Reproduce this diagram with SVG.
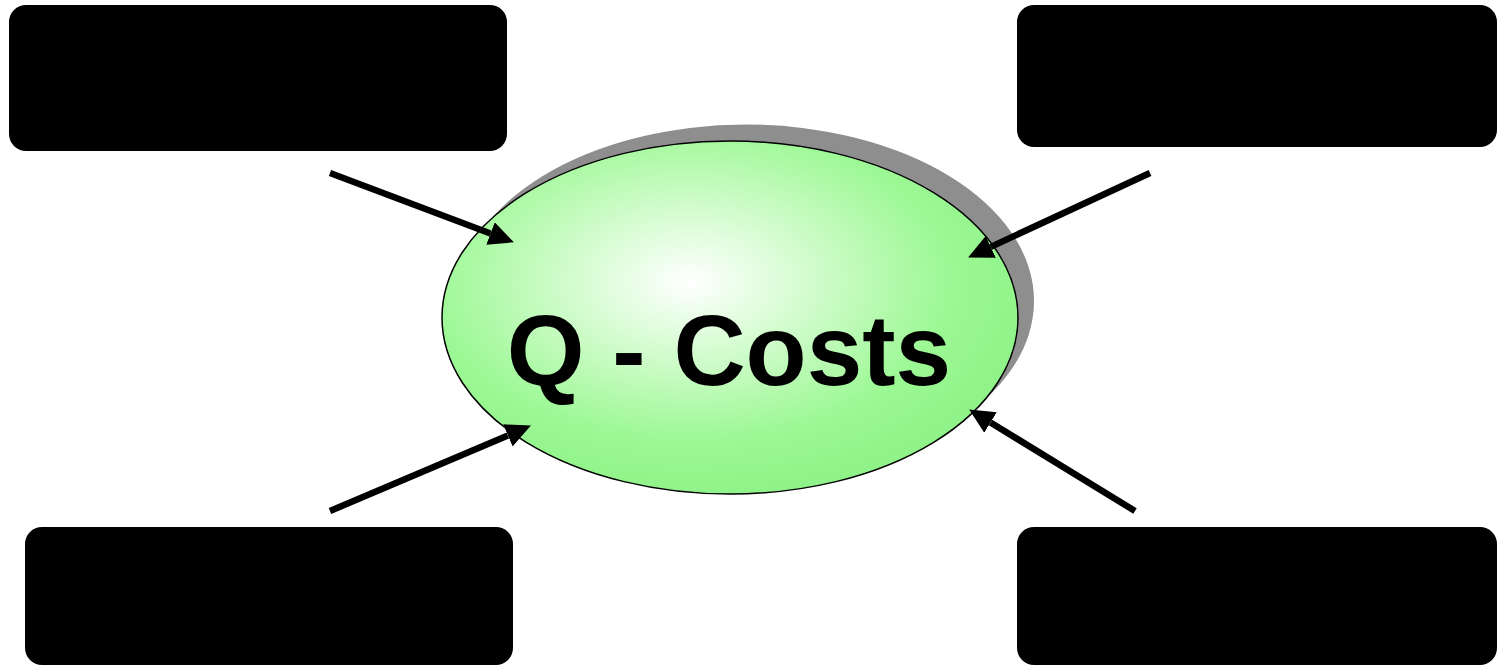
<svg xmlns="http://www.w3.org/2000/svg" width="1497" height="666" viewBox="0 0 1497 666">
  <style>
    .box { fill: #000000; }
    .conn { stroke: #000000; stroke-width: 6.5; fill: none; marker-end: url(#arrow); }
    .label { font-family: "Liberation Sans", Arial, sans-serif; font-weight: bold; font-size: 100px; fill: #000000; }
  </style>
  <defs>
    <marker id="arrow" markerUnits="userSpaceOnUse" markerWidth="26" markerHeight="25" refX="0" refY="12" orient="auto" viewBox="0 0 26 25">
      <path d="M0,0 L25,12 L0,24 z" fill="#000000"/>
    </marker>
    <radialGradient id="glow" cx="0.43" cy="0.4" r="0.6" fx="0.43" fy="0.4">
      <stop offset="0" stop-color="#ffffff"/>
      <stop offset="0.35" stop-color="#d2fccd"/>
      <stop offset="0.75" stop-color="#9cf894"/>
      <stop offset="1" stop-color="#90f389"/>
    </radialGradient>
  </defs>
  <rect width="1497" height="666" fill="#ffffff"/>

  <g id="box-top-left"><rect class="box" x="9" y="5" width="498" height="146" rx="17"/></g>
  <g id="box-top-right"><rect class="box" x="1017" y="5" width="480" height="142" rx="17"/></g>
  <g id="box-bottom-left"><rect class="box" x="25" y="527" width="488" height="138" rx="17"/></g>
  <g id="box-bottom-right"><rect class="box" x="1017" y="527" width="480" height="138" rx="17"/></g>

  <g id="center">
    <ellipse cx="746" cy="301" rx="288" ry="176.5" fill="#8e8e8e"/>
    <ellipse cx="730" cy="317.5" rx="288" ry="176.5" fill="url(#glow)" stroke="#000000" stroke-width="1.5"/>
    <text class="label" x="729" y="385" text-anchor="middle">Q - Costs</text>
  </g>

  <g id="connectors">
    <line class="conn" x1="330" y1="173" x2="490.5" y2="233.5"/>
    <line class="conn" x1="1150" y1="173" x2="990.8" y2="246.9"/>
    <line class="conn" x1="330" y1="511" x2="507.9" y2="435.4"/>
    <line class="conn" x1="1135" y1="511" x2="990.5" y2="422.5"/>
  </g>
</svg>
